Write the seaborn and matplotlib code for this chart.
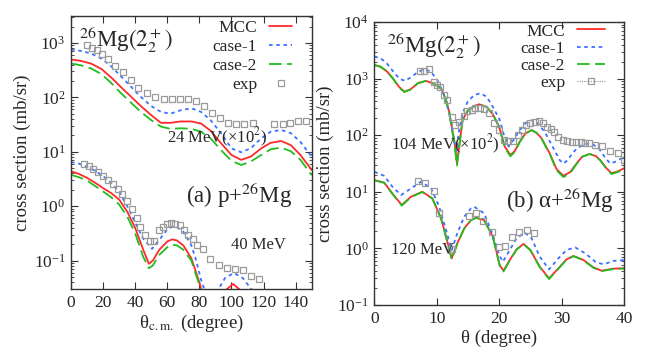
import numpy as np
import matplotlib
matplotlib.use("Agg")
import matplotlib.pyplot as plt
from matplotlib.lines import Line2D
import seaborn as sns

# ---- left panel: p + 26Mg, 24 MeV (x100) ----
th24 = [0, 6, 12.5, 19, 25, 31, 37.5, 43.5, 50, 56, 62, 68.5, 75, 81, 87, 93.5,
        100, 106, 112, 118.5, 124.5, 131, 137, 143, 150]
mcc24 = [495, 468, 417, 331, 232, 155, 102, 69, 47, 34, 34, 36, 36, 33, 24.3, 14.3,
         8.7, 7.1, 8.1, 11.5, 14.6, 15.7, 13.2, 8.7, 4.6]
case1_24 = [759, 713, 638, 513, 372, 245, 155, 102, 69, 54, 50, 58, 63, 54, 38, 21.9,
            11.5, 9.8, 11.5, 17.6, 23.4, 25.1, 21.9, 15.1, 8.1]
case2_24 = [417, 389, 339, 266, 184, 120, 79, 54, 38, 29, 26.3, 27, 26.3, 23.4, 17.6, 10.7,
            6.8, 5.7, 6.6, 8.7, 11.1, 11.9, 10.2, 7.1, 3.7]
exp24_th = [10, 13.3, 16.0, 19.1, 22.8, 27.4, 32.2, 37.2, 41.9, 47.1, 52.5, 57.9, 63.1, 67.9,
            72.7, 77.9, 82.9, 88.0, 92.8, 97.6, 102.8, 108.0, 113.2, 126.7, 131.9, 136.4,
            141.6, 146.4]
exp24 = [908, 809, 735, 638, 496, 380, 286, 207, 149, 121, 100, 95, 95, 95,
         95, 85, 68, 52.5, 41, 34, 33, 33, 34, 32, 33, 34, 36, 37]

# ---- left panel: 40 MeV ----
th40_c1 = [0, 5, 10, 15, 20, 25, 30, 35, 40, 45, 50.5, 55, 60, 63, 66, 70, 75, 78, 81, 85,
           88, 92, 96, 101.5, 107, 113, 118]
case1_40 = [6.46, 6.03, 5.25, 4.47, 3.55, 2.69, 1.82, 1.0, 0.50, 0.251, 0.164, 0.24, 0.372,
            0.42, 0.407, 0.339, 0.19, 0.1, 0.0447, 0.02, 0.0126, 0.0302, 0.0479, 0.0589,
            0.0479, 0.0282, 0.0112]
th40_mcc = [0, 5, 10, 15, 20, 25, 30, 35, 40, 45, 48.5, 51, 55, 60, 63, 66, 70, 75, 80, 84,
            90, 95, 101, 107, 112]
mcc40 = [4.37, 3.89, 3.31, 2.69, 2.14, 1.74, 1.32, 0.794, 0.398, 0.158, 0.087, 0.1, 0.158,
         0.224, 0.245, 0.234, 0.19, 0.11, 0.0398, 0.0141, 0.0063, 0.0263, 0.0372, 0.0263,
         0.0063]
th40_c2 = [0, 5, 10, 15, 20, 25, 30, 35, 40, 45, 48.5, 51, 55, 60, 63, 66, 70, 75, 80, 84]
case2_40 = [3.76, 3.39, 2.95, 2.34, 1.86, 1.46, 1.07, 0.646, 0.316, 0.117, 0.0724, 0.0813,
            0.127, 0.176, 0.195, 0.19, 0.158, 0.1, 0.0355, 0.0126]
exp40_th = [8, 11, 14, 17, 20, 23, 26, 29, 32, 35, 38, 41, 43, 46, 49.5, 52, 55, 57.5, 60,
            62.5, 65, 68, 70.5, 73, 76, 78.5, 82, 86.5, 92, 97, 102, 107, 112, 117]
exp40 = [6.0, 5.5, 4.9, 4.3, 3.6, 3.0, 2.5, 2.1, 1.65, 1.25, 0.9, 0.6, 0.42, 0.30, 0.23,
         0.23, 0.36, 0.41, 0.47, 0.50, 0.47, 0.45, 0.36, 0.30, 0.25, 0.195, 0.16, 0.106,
         0.083, 0.072, 0.069, 0.067, 0.052, 0.045]

# ---- right panel: alpha + 26Mg, 104 MeV (x100) ----
th104 = [0, 1, 2, 3, 4, 4.8, 5.8, 7, 8.3, 9.5, 10.7, 11.5, 12, 12.4, 12.8, 13.25, 13.7,
         14.15, 14.95, 16, 16.8, 18, 19, 20, 20.9, 21.8, 22.5, 23.3, 24.2, 25.2, 26, 26.8,
         28.1, 29.2, 30.3, 31.4, 32.4, 33.3, 34.5, 35.5, 36.2, 37.2, 38, 39, 40]
mcc104 = [1738, 1622, 1349, 1000, 708, 589, 646, 832, 912, 813, 676, 417, 260, 141, 82,
          31.6, 79, 186, 269, 328, 352, 316, 234, 141, 63, 44.7, 52.5, 76.9, 107, 123, 110,
          88, 47.9, 25.1, 19.2, 22.4, 31.6, 41.7, 46.6, 42.7, 36.3, 26, 21.4, 22.9, 26]
case2_104 = [1738, 1622, 1349, 1000, 700, 580, 640, 830, 912, 813, 676, 417, 255, 135, 76,
             29, 75, 183, 268, 328, 352, 316, 232, 138, 60, 42.5, 50.5, 75.5, 106, 123, 110,
             87, 46.5, 24, 18.2, 21.5, 31, 41.5, 46.6, 42.5, 35.8, 25.5, 20.6, 22.3, 25.6]
th104_c1 = [0, 1, 2, 3, 4, 4.9, 6, 7, 8, 9, 10.1, 11.2, 12, 12.5, 13.1, 13.6, 14.15, 14.95,
            16, 17, 18, 19, 20.1, 20.7, 21.5, 22.3, 23.3, 24.5, 25.5, 26.5, 27.6, 28.7, 29.7,
            30.3, 31, 31.6, 32.4, 33.4, 34.2, 35, 36, 37, 37.8, 38.6, 39.4, 40]
case1_104 = [2455, 2291, 1862, 1349, 1000, 912, 1072, 1318, 1459, 1349, 944, 513, 245, 123,
             52.5, 123, 245, 389, 513, 550, 479, 316, 186, 107, 63, 82, 123, 174, 186, 151,
             100, 58.9, 36.3, 31.6, 36.3, 45.7, 57.5, 67.6, 70.8, 69.2, 57.5, 39.8, 31.6,
             33.9, 38, 39.8]
exp104_th = [7.4, 8.0, 8.8, 9.5, 10.0, 10.5, 11.1, 11.7, 12.4, 12.9, 13.6, 14.3, 14.9, 15.6,
             16.2, 16.9, 17.6, 18.3, 19.1, 19.9, 20.8, 21.5, 22.2, 23.0, 23.7, 24.3, 24.9,
             25.7, 26.4, 27.1, 27.7, 28.3, 28.8, 29.5, 30.2, 30.8, 31.6, 32.3, 33.1, 33.8,
             34.4, 35.4, 36.4, 37.8, 39.1, 40.0]
exp104 = [1380, 1365, 1460, 883, 771, 701, 513, 419, 212, 151, 174, 219, 269, 280, 298, 298,
          286, 244, 166, 123, 82, 78, 80, 100, 125, 151, 165, 174, 178, 162, 141, 129, 116,
          92, 82, 79, 77, 77, 77, 74, 72, 67, 65, 53, 48, 36]

# ---- right panel: 120 MeV ----
th120 = [0, 1.6, 2.9, 4.4, 5.9, 7.7, 9.3, 10.7, 11.5, 12.4, 13.3, 14.4, 15.5, 16.3, 17.6, 19,
         20.1, 20.7, 21.7, 22.8, 23.9, 25, 26.5, 28, 29.5, 30.8, 31.9, 33.5, 35.1, 36.4,
         38.3, 40]
mcc120 = [16.1, 14.5, 9.33, 5.85, 8.2, 10, 7.67, 3.4, 1.61, 0.667, 1.23, 2.26, 3.16, 3.49,
          3.16, 1.61, 0.501, 0.404, 0.624, 0.962, 1.2, 0.938, 0.475, 0.296, 0.445, 0.641,
          0.735, 0.624, 0.462, 0.404, 0.439, 0.445]
case2_120 = [16.0, 14.4, 9.2, 5.7, 8.1, 9.9, 7.6, 3.35, 1.57, 0.64, 1.2, 2.23, 3.14, 3.47,
             3.14, 1.58, 0.49, 0.392, 0.61, 0.955, 1.19, 0.93, 0.466, 0.287, 0.437, 0.635,
             0.73, 0.618, 0.455, 0.396, 0.432, 0.44]
th120_c1 = [0, 1.6, 2.9, 4.3, 5.9, 7.5, 9.1, 10.4, 11.5, 12.4, 13.3, 14.4, 15.5, 16, 17.6, 19,
            20, 20.6, 21.7, 22.8, 24.1, 25.2, 26.5, 28, 29.5, 30.8, 32.2, 33.8, 35.4, 36.7,
            38.3, 40]
case1_120 = [22.6, 19.1, 12.3, 8.77, 11.5, 15.1, 11.5, 5.46, 2.11, 0.938, 1.85, 3.63, 5.11,
             5.46, 4.17, 1.72, 0.764, 0.582, 0.938, 1.51, 1.9, 1.51, 0.714, 0.427, 0.667,
             0.938, 1.04, 0.818, 0.582, 0.522, 0.6, 0.624]
exp120_th = [7.0, 8.2, 9.5, 10.3, 12.4, 15.2, 16.3, 17.4, 18.8, 19.9, 21.0, 22.1, 23.2, 24.4,
             25.6]
exp120 = [15.5, 14.5, 10.5, 4.3, 0.96, 3.73, 4.2, 3.1, 1.92, 1.04, 1.12, 1.57, 1.98, 2.11,
          1.85]

RED = "#ff2a2a"
BLUE = "#3a72ff"
GREEN = "#1fbf1f"
GRAY = "#9a9a9a"
DOT = (0, (2, 2))
DASH = (0, (7, 3))

sns.set_theme(style="ticks")
plt.rcParams["font.family"] = ["Liberation Serif", "DejaVu Serif"]
plt.rcParams["mathtext.fontset"] = "stix"
plt.rcParams["axes.linewidth"] = 1.0
plt.rcParams["axes.edgecolor"] = "#333333"

fig = plt.figure(figsize=(6.54, 3.59), dpi=100)
ax1 = fig.add_axes([0.1086, 0.195, 0.368, 0.760])
ax2 = fig.add_axes([0.5723, 0.1504, 0.3818, 0.7883])


def curves(ax, x, y, color, ls, label=None):
    sns.lineplot(x=x, y=y, color=color, linestyle=ls, linewidth=1.3, ax=ax,
                 label=label, legend=False, sort=False)


def points(ax, x, y):
    sns.lineplot(x=x, y=y, marker="s", linestyle="none", markersize=4.3,
                 markerfacecolor="none", markeredgecolor=GRAY, markeredgewidth=0.9,
                 ax=ax, legend=False, sort=False)


# left
for ax in (ax1, ax2):
    ax.set_yscale("log")

curves(ax1, th24, mcc24, RED, "-")
curves(ax1, th24, case1_24, BLUE, DOT)
curves(ax1, th24, case2_24, GREEN, DASH)
points(ax1, exp24_th, exp24)
curves(ax1, th40_mcc, mcc40, RED, "-")
curves(ax1, th40_c1, case1_40, BLUE, DOT)
curves(ax1, th40_c2, case2_40, GREEN, DASH)
points(ax1, exp40_th, exp40)

ax1.set_xlim(0, 150)
ax1.set_ylim(0.03, 3100)
ax1.set_xticks(range(0, 141, 20))
ax1.set_xlabel(r"θ$_{\rm c.m.}$ (degree)", fontsize=13.5, labelpad=2)
ax1.set_ylabel("cross section (mb/sr)", fontsize=13.5, labelpad=2)
ax1.text(0.035, 0.915, r"$^{26}$Mg$(2^+_2)$", transform=ax1.transAxes,
         fontsize=16.5, va="center", ha="left")
ax1.text(0.918, 0.345, r"(a) p+$^{26}$Mg", transform=ax1.transAxes,
         fontsize=16.5, va="center", ha="right")
ax1.text(91, 18.6, r"24 MeV(×10$^2$)", fontsize=12, ha="center", va="center")
ax1.text(116.5, 0.194, "40 MeV", fontsize=12, ha="center", va="center")

# right
curves(ax2, th104, mcc104, RED, "-")
curves(ax2, th104_c1, case1_104, BLUE, DOT)
curves(ax2, th104, case2_104, GREEN, DASH)
points(ax2, exp104_th, exp104)
curves(ax2, th120, mcc120, RED, "-")
curves(ax2, th120_c1, case1_120, BLUE, DOT)
curves(ax2, th120, case2_120, GREEN, DASH)
points(ax2, exp120_th, exp120)

ax2.set_xlim(0, 40)
ax2.set_ylim(0.1, 1e4)
ax2.set_xticks(range(0, 41, 10))
ax2.set_xlabel("θ (degree)", fontsize=13.5, labelpad=2)
ax2.set_ylabel("cross section (mb/sr)", fontsize=13.5, labelpad=2)
ax2.text(0.05, 0.915, r"$^{26}$Mg$(2^+_2)$", transform=ax2.transAxes,
         fontsize=16.5, va="center", ha="left")
ax2.text(0.958, 0.372, r"(b) α+$^{26}$Mg", transform=ax2.transAxes,
         fontsize=16.5, va="center", ha="right")
ax2.text(11.4, 69, r"104 MeV(×10$^2$)", fontsize=12, ha="center", va="center")
ax2.text(7.8, 0.94, "120 MeV", fontsize=12, ha="center", va="center")

for ax in (ax1, ax2):
    ax.tick_params(which="both", direction="in", top=True, right=True, labelsize=12.5,
                   color="#333333")
    ax.tick_params(which="major", length=5, width=0.8, pad=4)
    ax.tick_params(which="minor", length=2.5, width=0.6)
    ax.tick_params(axis="x", which="minor", bottom=False, top=False)
    sns.despine(ax=ax, top=False, right=False)

leg_left = [Line2D([], [], color=RED, lw=1.3, ls="-"),
            Line2D([], [], color=BLUE, lw=1.3, ls=DOT),
            Line2D([], [], color=GREEN, lw=1.3, ls=DASH),
            Line2D([], [], color=GRAY, ls="none", marker="s", markersize=4.3,
                   markerfacecolor="none", markeredgewidth=0.9)]
leg_right = leg_left[:3] + [Line2D([], [], color=GRAY, lw=0.8, ls=(0, (1, 1)), marker="s",
                                   markersize=4.3, markerfacecolor="none",
                                   markeredgewidth=0.9)]
names = ["MCC", "case-1", "case-2", "exp"]
ax1.legend(leg_left, names, loc="upper right", bbox_to_anchor=(0.918, 0.985),
           frameon=False, markerfirst=False, fontsize=12.5, handlelength=1.3,
           handletextpad=0.7, labelspacing=0.15, borderpad=0, borderaxespad=0)
ax2.legend(leg_right, names, loc="upper right", bbox_to_anchor=(0.924, 0.995),
           frameon=False, markerfirst=False, fontsize=12.5, handlelength=1.6,
           handletextpad=0.7, labelspacing=0.05, borderpad=0, borderaxespad=0)

fig.savefig("out.png", dpi=100)
